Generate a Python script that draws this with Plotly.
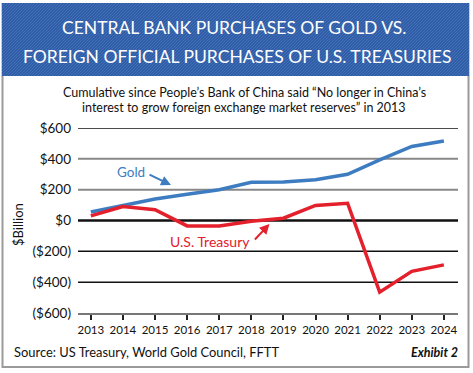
import plotly.graph_objects as go

years = [2013, 2014, 2015, 2016, 2017, 2018, 2019, 2020, 2021, 2022, 2023, 2024]
gold = [55, 95, 140, 170, 200, 248, 250, 265, 300, 393, 480, 515]
treasury = [30, 90, 70, -35, -35, -5, 15, 98, 112, -465, -330, -288]
y_ticks = [600, 400, 200, 0, -200, -400, -600]
y_labels = ["$600", "$400", "$200", "$0", "($200)", "($400)", "($600)"]

W, H = 473, 373
FONT = "Lato"
ML, MR, MT, MB = 78, 15, 128, 60

fig = go.Figure()
fig.add_trace(go.Scatter(x=years, y=gold, mode="lines", name="Gold",
                         line=dict(color="#3d7cc0", width=3.5), showlegend=False))
fig.add_trace(go.Scatter(x=years, y=treasury, mode="lines", name="U.S. Treasury",
                         line=dict(color="#e3202b", width=3.5), showlegend=False))


def px(x):
    return (x - ML) / (W - ML - MR)


def py(y):
    return 1 - (y - MT) / (H - MT - MB)


shapes = []
shapes.append(dict(type="rect", xref="paper", yref="paper", x0=px(2.5), x1=px(468.5),
                   y0=py(367), y1=py(4), line=dict(color="#9a9a9a", width=2), layer="below"))
shapes.append(dict(type="rect", xref="paper", yref="paper", x0=px(2), x1=px(469),
                   y0=py(76), y1=py(3), fillcolor="#2f5da7", line=dict(width=0), layer="below"))
# subtle diagonal stripes on the banner (decoration)
stripe_path = []
x = -80.0
while x < 472:
    x0, y0 = x, 76.0
    x1, y1 = x + 73.0, 3.0
    if x0 < 2:
        y0 = 76.0 - (2 - x0)
        x0 = 2.0
    if x1 > 469:
        y1 = 3.0 + (x1 - 469)
        x1 = 469.0
    if x0 < x1:
        stripe_path.append(f"M{px(x0):.5f},{py(y0):.5f}L{px(x1):.5f},{py(y1):.5f}")
    x += 3.0
shapes.append(dict(type="path", xref="paper", yref="paper", path="".join(stripe_path),
                   line=dict(color="rgba(120,160,215,0.3)", width=1), layer="below"))

grid_style = {600: ("#111111", 1.5), 400: ("#888888", 2), 200: ("#888888", 2),
              0: ("#111111", 2.5), -200: ("#111111", 1.5), -400: ("#111111", 1.5)}
for v in y_ticks:
    if v in grid_style:
        c, w = grid_style[v]
        shapes.append(dict(type="line", xref="paper", yref="y", x0=0, x1=1, y0=v, y1=v,
                           line=dict(color=c, width=w), layer="below"))

fig.update_layout(
    width=W, height=H,
    margin=dict(l=ML, r=MR, t=MT, b=MB),
    paper_bgcolor="white", plot_bgcolor="rgba(0,0,0,0)",
    font=dict(family=FONT, color="#111111"),
    xaxis=dict(range=[2012.6, 2024.44], tickmode="array", tickvals=years,
               ticktext=[str(y) for y in years], showgrid=False, zeroline=False,
               showline=True, linecolor="#777777", linewidth=2,
               ticks="outside", ticklen=5, tickwidth=2, tickcolor="#222222",
               tickfont=dict(size=11.5, family=FONT, color="#111111")),
    yaxis=dict(range=[-600, 600], tickmode="array", tickvals=y_ticks, ticktext=y_labels,
               showgrid=False, zeroline=False, showline=False, ticks="",
               ticklabelstandoff=6,
               tickfont=dict(size=13.5, family=FONT, color="#111111")),
    shapes=shapes,
)

ann = []
ann.append(dict(xref="paper", yref="paper", x=px(234), y=py(27), text="CENTRAL BANK PURCHASES OF GOLD VS.",
                showarrow=False, font=dict(size=17.5, color="white", family=FONT), xanchor="center", yanchor="middle"))
ann.append(dict(xref="paper", yref="paper", x=px(237), y=py(56), text="FOREIGN OFFICIAL PURCHASES OF U.S. TREASURIES",
                showarrow=False, font=dict(size=17.5, color="white", family=FONT), xanchor="center", yanchor="middle"))
ann.append(dict(xref="paper", yref="paper", x=px(244), y=py(92),
                text="Cumulative since People\u2019s Bank of China said \u201cNo longer in China\u2019s",
                showarrow=False, font=dict(size=12.5, color="#111111", family=FONT), xanchor="center", yanchor="middle"))
ann.append(dict(xref="paper", yref="paper", x=px(244), y=py(107),
                text="interest to grow foreign exchange market reserves\u201d in 2013",
                showarrow=False, font=dict(size=12.5, color="#111111", family=FONT), xanchor="center", yanchor="middle"))
ann.append(dict(xref="paper", yref="paper", x=px(18), y=py(225), text="$Billion", textangle=-90,
                showarrow=False, font=dict(size=13, color="#111111", family=FONT), xanchor="center", yanchor="middle"))
ann.append(dict(xref="paper", yref="paper", x=px(12), y=py(352), text="Source: US Treasury, World Gold Council, FFTT",
                showarrow=False, font=dict(size=12.9, color="#111111", family=FONT), xanchor="left", yanchor="middle"))
ann.append(dict(xref="paper", yref="paper", x=px(460), y=py(352), text="<b><i>Exhibit 2</i></b>",
                showarrow=False, font=dict(size=12.5, color="#111111", family=FONT), xanchor="right", yanchor="middle"))
# series labels with arrows
ann.append(dict(xref="paper", yref="paper", x=px(171), y=py(185), ax=-23, ay=-11,
                text="", showarrow=True, arrowhead=2, arrowsize=1,
                arrowwidth=2, arrowcolor="#3d7cc0"))
ann.append(dict(xref="paper", yref="paper", x=px(131), y=py(172), text="Gold", showarrow=False,
                font=dict(size=13.5, color="#3d7cc0", family=FONT), xanchor="center", yanchor="middle"))
ann.append(dict(xref="paper", yref="paper", x=px(269.5), y=py(224), ax=-16, ay=17,
                text="", showarrow=True, arrowhead=2, arrowsize=1,
                arrowwidth=2, arrowcolor="#e3202b"))
ann.append(dict(xref="paper", yref="paper", x=px(210), y=py(241), text="U.S. Treasury", showarrow=False,
                font=dict(size=14, color="#e3202b", family=FONT), xanchor="center", yanchor="middle"))
fig.update_layout(annotations=ann)

fig.write_html("out.html", config={"displayModeBar": False},
               post_script="document.body.style.margin='0';document.body.style.overflow='hidden';")
